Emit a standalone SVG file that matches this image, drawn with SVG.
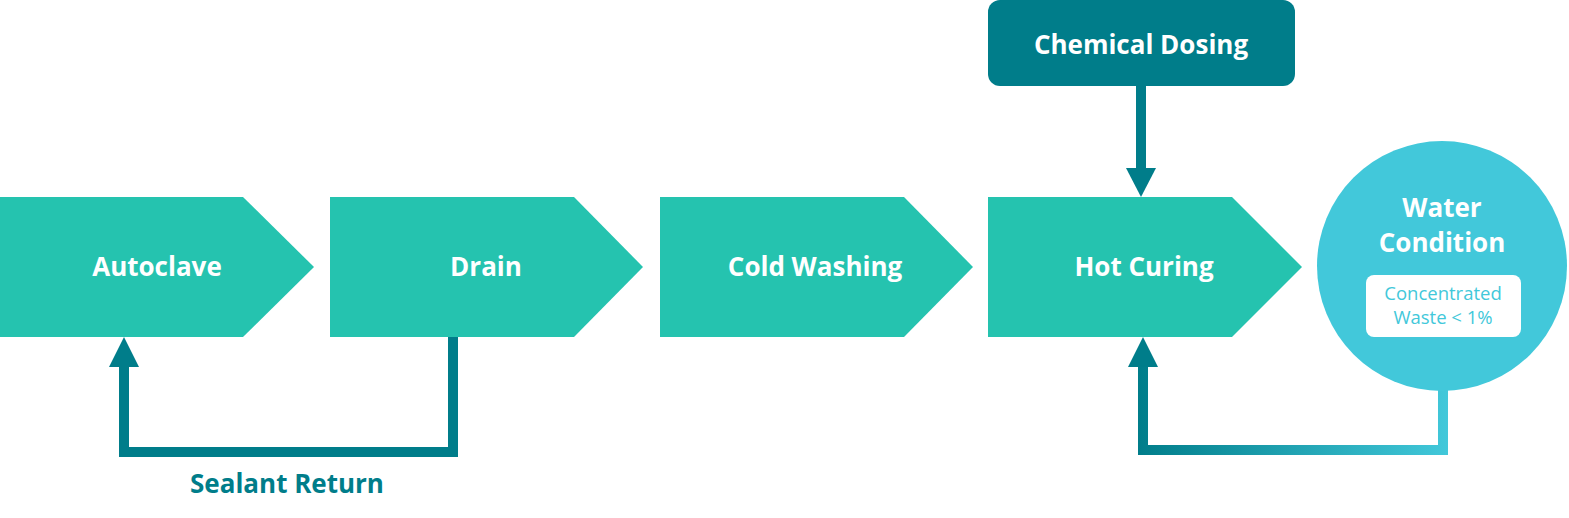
<svg xmlns="http://www.w3.org/2000/svg" width="1569" height="518" viewBox="0 0 1569 518">
<defs>
<style>
.chev{fill:#25c3af}
.lbl{font-family:"Open Sans","Noto Sans",sans-serif;font-weight:700;font-size:26px;fill:#ffffff;text-anchor:middle}
.small{font-family:"Open Sans","Noto Sans",sans-serif;font-weight:400;font-size:18.5px;fill:#42c8da;text-anchor:middle}
.dark{fill:#007d8a}
.line{fill:none;stroke-width:10;stroke-linejoin:miter;stroke-linecap:butt}
</style>
<linearGradient id="grad" gradientUnits="userSpaceOnUse" x1="1138" y1="0" x2="1448" y2="0">
<stop offset="0" stop-color="#007d8a"/>
<stop offset="1" stop-color="#42c8da"/>
</linearGradient>
</defs>
<g id="connectors">
<path class="line" stroke="#007d8a" d="M453,337 V452 H124 V364"/>
<polygon class="dark" points="124,337 139,367 109,367"/>
<path class="line" stroke="#007d8a" d="M1141,86 V170"/>
<polygon class="dark" points="1141,197 1126,168 1156,168"/>
<path class="line" stroke="url(#grad)" d="M1443,390 V450 H1143 V365"/>
<polygon class="dark" points="1143,337 1158,367 1128,367"/>
<text x="287" y="493" class="lbl" style="fill:#007d8a">Sealant Return</text>
</g>
<g id="autoclave">
<polygon class="chev" points="0,197 243,197 314,267 243,337 0,337"/>
<text x="157" y="276" class="lbl">Autoclave</text>
</g>
<g id="drain">
<polygon class="chev" points="330,197 574,197 643,267 574,337 330,337"/>
<text x="486" y="276" class="lbl">Drain</text>
</g>
<g id="cold-washing">
<polygon class="chev" points="660,197 904,197 973,267 904,337 660,337"/>
<text x="815" y="276" class="lbl">Cold Washing</text>
</g>
<g id="hot-curing">
<polygon class="chev" points="988,197 1232,197 1302,267 1232,337 988,337"/>
<text x="1144" y="276" class="lbl">Hot Curing</text>
</g>
<g id="chemical-dosing">
<rect x="988" y="0" width="307" height="86" rx="12" class="dark"/>
<text x="1141" y="54" class="lbl">Chemical Dosing</text>
</g>
<g id="water-condition">
<circle cx="1442" cy="266" r="125" fill="#42c8da"/>
<text x="1442" y="217" class="lbl">Water</text>
<text x="1442" y="252" class="lbl">Condition</text>
<rect x="1366" y="275" width="155" height="62" rx="8" fill="#ffffff"/>
<text x="1443" y="300" class="small">Concentrated</text>
<text x="1443" y="324" class="small">Waste &lt; 1%</text>
</g>
</svg>
